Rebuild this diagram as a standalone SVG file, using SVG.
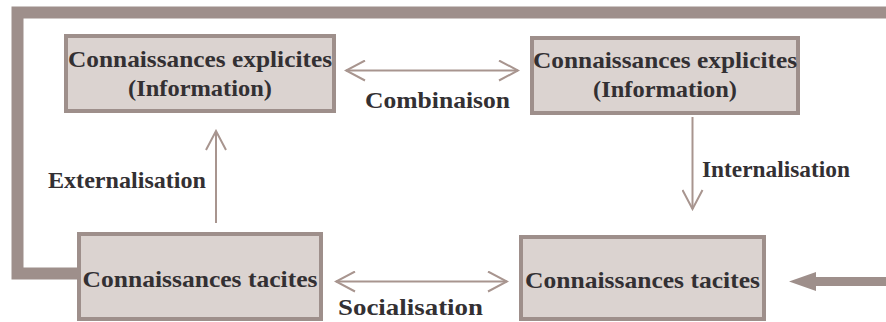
<svg xmlns="http://www.w3.org/2000/svg" width="886" height="322" viewBox="0 0 886 322">
<defs>
<style>
.box{fill:#dbd3d0;stroke:#9e8f8b;stroke-width:4}
.t{font-family:"Liberation Serif","Times New Roman",serif;font-weight:bold;font-size:22.5px;fill:#333033;text-anchor:middle}
.ln{fill:none;stroke:#a8958f;stroke-width:2}
.frame{fill:none;stroke:#9e8f8b;stroke-width:12;stroke-linejoin:miter}
</style>
<marker id="ah" viewBox="0 0 22 22" refX="20" refY="11" markerWidth="22" markerHeight="22" markerUnits="userSpaceOnUse" orient="auto-start-reverse">
<path d="M1 1 L20 11 L1 21" fill="none" stroke="#a8958f" stroke-width="2"/>
</marker>
</defs>
<rect width="886" height="322" fill="#ffffff"/>
<g id="connectors">
<path class="frame" d="M78 273.5 H17.5 V12.5 H886"/>
<line class="ln" x1="346" y1="70.5" x2="518" y2="70.5" marker-start="url(#ah)" marker-end="url(#ah)"/>
<line class="ln" x1="336" y1="281.5" x2="507" y2="281.5" marker-start="url(#ah)" marker-end="url(#ah)"/>
<line class="ln" x1="216" y1="223" x2="216" y2="131" marker-end="url(#ah)"/>
<line class="ln" x1="692.5" y1="117" x2="692.5" y2="209" marker-end="url(#ah)"/>
<path d="M886 277 H816 V272 L789 281.5 L816 291 V286 H886 Z" fill="#9e8f8b"/>
</g>
<g id="labels">
<text class="t" x="437.5" y="108" textLength="145" lengthAdjust="spacingAndGlyphs">Combinaison</text>
<text class="t" x="127" y="188" textLength="158" lengthAdjust="spacingAndGlyphs">Externalisation</text>
<text class="t" x="776" y="177" textLength="148" lengthAdjust="spacingAndGlyphs">Internalisation</text>
<text class="t" x="410.5" y="315" textLength="145" lengthAdjust="spacingAndGlyphs">Socialisation</text>
</g>
<g id="node-explicit-left">
<rect class="box" x="66" y="36" width="268" height="75"/>
<text class="t" x="200" y="67" textLength="264" lengthAdjust="spacingAndGlyphs">Connaissances explicites</text>
<text class="t" x="200" y="96" textLength="144" lengthAdjust="spacingAndGlyphs">(Information)</text>
</g>
<g id="node-explicit-right">
<rect class="box" x="532" y="38" width="266" height="75"/>
<text class="t" x="665" y="68" textLength="264" lengthAdjust="spacingAndGlyphs">Connaissances explicites</text>
<text class="t" x="665" y="97" textLength="144" lengthAdjust="spacingAndGlyphs">(Information)</text>
</g>
<g id="node-tacit-left">
<rect class="box" x="79" y="234" width="242" height="85"/>
<text class="t" x="200" y="287" textLength="235" lengthAdjust="spacingAndGlyphs">Connaissances tacites</text>
</g>
<g id="node-tacit-right">
<rect class="box" x="521" y="237" width="243" height="82"/>
<text class="t" x="642.5" y="288" textLength="235" lengthAdjust="spacingAndGlyphs">Connaissances tacites</text>
</g>
</svg>
